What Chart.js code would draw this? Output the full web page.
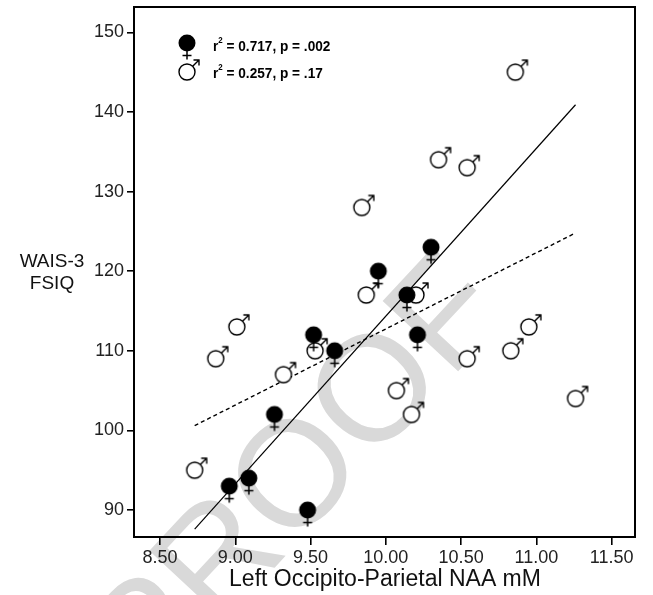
<!DOCTYPE html>
<html>
<head>
<meta charset="utf-8">
<script src="https://cdn.jsdelivr.net/npm/chart.js@4/dist/chart.umd.min.js"></script>
<style>
  body { margin: 0; background: #fff; }
  canvas { display: block; }
</style>
</head>
<body>
<canvas id="chart" width="653" height="595"></canvas>
<script>
// Values
const femaleNAA = [8.96, 9.09, 9.48, 9.26, 9.52, 9.66, 9.95, 10.14, 10.21, 10.30];
const femaleIQ = [93, 94, 90, 102, 112, 110, 120, 117, 112, 123];
const maleNAA = [8.73, 8.87, 9.01, 9.32, 9.53, 9.84, 9.87, 10.07, 10.17, 10.20, 10.35, 10.54, 10.54, 10.83, 10.86, 10.95, 11.26];
const maleIQ = [95, 109, 113, 107, 110, 128, 117, 105, 102, 117, 134, 133, 109, 110, 145, 113, 104];

// Fit lines, endpoints
const fitNAA = [8.73, 11.26];
const femaleFitIQ = [87.6, 140.9];
const maleFitIQ = [100.6, 124.8];

const xTicks = [8.5, 9.0, 9.5, 10.0, 10.5, 11.0, 11.5];
const yTicks = [90, 100, 110, 120, 130, 140, 150];

const legendLabels = ['0.717, p = .002', '0.257, p = .17'];
const FONT = '"Liberation Sans", Arial, Helvetica, sans-serif';

// Marker images
const makeFemale = () => {
  const c = document.createElement('canvas');
  c.width = 30; c.height = 40;
  const g = c.getContext('2d');
  const cx = 15, cy = 20;
  g.fillStyle = '#000';
  g.beginPath();
  g.arc(cx, cy, 8.5, 0, Math.PI * 2);
  g.fill();
  g.strokeStyle = '#000';
  g.lineWidth = 1.5;
  g.beginPath();
  g.moveTo(cx, cy + 8); g.lineTo(cx, cy + 16.5);
  g.moveTo(cx - 4.5, cy + 12.5); g.lineTo(cx + 4.5, cy + 12.5);
  g.stroke();
  return c;
};

const makeMale = () => {
  const c = document.createElement('canvas');
  c.width = 30; c.height = 30;
  const g = c.getContext('2d');
  const cx = 15, cy = 15;
  g.fillStyle = '#fff';
  g.strokeStyle = '#000';
  g.lineWidth = 1.4;
  g.beginPath();
  g.arc(cx, cy, 8, 0, Math.PI * 2);
  g.fill();
  g.stroke();
  g.beginPath();
  g.moveTo(cx + 5.7, cy - 5.7); g.lineTo(cx + 12, cy - 12);
  g.moveTo(cx + 6.5, cy - 12); g.lineTo(cx + 12.5, cy - 12);
  g.moveTo(cx + 12, cy - 12.5); g.lineTo(cx + 12, cy - 6.5);
  g.stroke();
  return c;
};

const femaleIcon = makeFemale();
const maleIcon = makeMale();

const toPoints = (xs, ys) => xs.map((x, i) => ({ x, y: ys[i] }));

// Watermark, frame, titles and legend
const decor = {
  id: 'decor',
  beforeDraw(chart) {
    const ctx = chart.ctx;
    ctx.save();
    ctx.translate(300, 480);
    ctx.rotate(-47 * Math.PI / 180);
    ctx.font = '150px ' + FONT;
    ctx.fillStyle = '#d9d9d9';
    ctx.textAlign = 'center';
    ctx.textBaseline = 'middle';
    ctx.fillText('PROOF', 0, 0);
    ctx.restore();
  },
  afterDraw(chart) {
    const ctx = chart.ctx;
    const a = chart.chartArea;
    ctx.save();
    ctx.strokeStyle = '#000';
    ctx.lineWidth = 2;
    ctx.strokeRect(a.left, a.top, a.right - a.left, a.bottom - a.top);

    ctx.fillStyle = '#111';
    ctx.textAlign = 'center';
    ctx.textBaseline = 'middle';
    ctx.font = '19px ' + FONT;
    ctx.fillText('WAIS-3', 52, 262);
    ctx.fillText('FSIQ', 52, 284);
    ctx.font = '23px ' + FONT;
    ctx.fillText('Left Occipito-Parietal NAA mM', 385, 580);

    // legend
    const rows = [[femaleIcon, 43, 47], [maleIcon, 72, 74]];
    rows.forEach(([icon, iy, ty], i) => {
      ctx.drawImage(icon, 187 - icon.width / 2, iy - icon.height / 2);
      ctx.save();
      ctx.translate(213, ty);
      ctx.scale(0.88, 1);
      ctx.textAlign = 'left';
      ctx.fillStyle = '#000';
      ctx.font = 'bold 15.5px ' + FONT;
      ctx.fillText('r', 0, 0);
      const rw = ctx.measureText('r').width;
      ctx.font = 'bold 9px ' + FONT;
      ctx.fillText('2', rw, -6);
      const sw = ctx.measureText('2').width;
      ctx.font = 'bold 15.5px ' + FONT;
      ctx.fillText(' = ' + legendLabels[i], rw + sw, 0);
      ctx.restore();
    });
    ctx.restore();
  }
};

new Chart(document.getElementById('chart'), {
  type: 'scatter',
  data: {
    datasets: [
      {
        label: 'Female',
        data: toPoints(femaleNAA, femaleIQ),
        pointStyle: femaleIcon,
        order: 1
      },
      {
        label: 'Male',
        data: toPoints(maleNAA, maleIQ),
        pointStyle: maleIcon,
        order: 2
      },
      {
        label: 'Female fit',
        type: 'line',
        data: toPoints(fitNAA, femaleFitIQ),
        borderColor: '#000',
        borderWidth: 1.2,
        pointRadius: 0,
        fill: false,
        order: 3
      },
      {
        label: 'Male fit',
        type: 'line',
        data: toPoints(fitNAA, maleFitIQ),
        borderColor: '#000',
        borderWidth: 1.4,
        borderDash: [4, 3],
        pointRadius: 0,
        fill: false,
        order: 4
      }
    ]
  },
  options: {
    responsive: false,
    animation: false,
    devicePixelRatio: 1,
    layout: { padding: { top: 7, right: 18, left: 0, bottom: 0 } },
    plugins: {
      legend: { display: false },
      tooltip: { enabled: false }
    },
    scales: {
      x: {
        type: 'linear',
        min: 8.327,
        max: 11.655,
        afterFit: (s) => { s.height = 58; s.paddingLeft = 0; s.paddingRight = 0; },
        afterBuildTicks: (s) => { s.ticks = xTicks.map(v => ({ value: v })); },
        border: { display: false },
        grid: { drawOnChartArea: false, tickLength: 8, color: '#000', lineWidth: 1.6 },
        ticks: {
          padding: 2,
          color: '#222',
          font: { family: FONT, size: 18 },
          callback: (v) => Number(v).toFixed(2)
        }
      },
      y: {
        type: 'linear',
        min: 86.61,
        max: 153.18,
        afterFit: (s) => { s.width = 134; s.paddingTop = 0; s.paddingBottom = 0; },
        afterBuildTicks: (s) => { s.ticks = yTicks.map(v => ({ value: v })); },
        border: { display: false },
        grid: { drawOnChartArea: false, tickLength: 7, color: '#000', lineWidth: 1.6 },
        ticks: {
          padding: 3,
          color: '#222',
          font: { family: FONT, size: 18 }
        }
      }
    }
  },
  plugins: [decor]
});
</script>
</body>
</html>
